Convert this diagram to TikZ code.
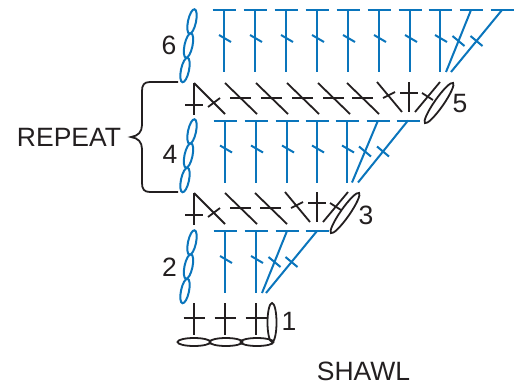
\documentclass[tikz,border=0pt]{standalone}
\usepackage{fontspec}
\setmainfont{Liberation Sans}
\usetikzlibrary{shapes.geometric,calc}
\definecolor{chartblue}{HTML}{0A75BC}
\definecolor{chartblack}{HTML}{231F20}
\tikzset{
  bluest/.style={draw=chartblue,line width=2pt},
  blackst/.style={draw=chartblack,line width=1.8pt},
  chainlink/.style={ellipse,draw=chartblue,line width=2pt,inner sep=0pt,minimum width=25pt,minimum height=8pt,rotate=78},
  flatlink/.style={ellipse,draw=chartblack,line width=1.8pt,inner sep=0pt,minimum width=33pt,minimum height=8pt},
  turnlink/.style={ellipse,draw=chartblack,line width=1.8pt,inner sep=0pt,minimum width=49pt,minimum height=9pt,rotate=55},
  numlabel/.style={font=\fontsize{26.5}{29}\selectfont,text=chartblack,inner sep=0pt}
}
\begin{document}
\begin{tikzpicture}[x=1pt,y=-1pt]
            \useasboundingbox (0,0) rectangle (518,386);

            % straight blue stitches: x, top y
            \foreach \xa/\ya in {224/10,255/10,286/10,317/10,348/10,379/10,410/10,440/10,
                                 225/120.5,256/120.5,287/120.5,317/120.5,347/120.5,
                                 225/231,256/231} {
                \draw[bluest] (\xa-11.5,\ya) -- (\xa+11.5,\ya);
                \draw[bluest] (\xa,\ya) -- (\xa,\ya+62);
                \draw[bluest] (\xa-5,\ya+25) -- (\xa+7,\ya+32);
            }
            % slanted blue stitches: top x, bottom x, top y
            \foreach \xa/\xb/\ya in {471/446/10,502/451/10,
                                     378/352/120.5,408/358/120.5,
                                     287/262/231,317/266/231} {
                \draw[bluest] (\xa-11.5,\ya) -- (\xa+11.5,\ya);
                \draw[bluest] (\xa,\ya) -- (\xb,\ya+62);
                \draw[bluest] ($(\xa,\ya)!0.5!(\xb,\ya+62)+(-6,-5)$) -- ($(\xa,\ya)!0.5!(\xb,\ya+62)+(6,5)$);
            }

            % foundation row
            \foreach \xa in {194,225,256} {
                \draw[blackst] (\xa,303) -- (\xa,335);
                \draw[blackst] (\xa-10.5,318) -- (\xa+10.5,318);
            }
            \node (f1) at (194,342) [flatlink] {};
            \node (f2) at (226,342) [flatlink] {};
            \node (f3) at (257,342) [flatlink] {};
            \node (f4) at (272,322.5) [flatlink,minimum width=39pt,minimum height=9pt,rotate=90] {};

            % black rows: top y 83 and 193
            \foreach \ya in {83,193} {
                \draw[blackst] (194,\ya) -- (194,\ya+32);
                \draw[blackst] (185,\ya+22) -- (203,\ya+22);
                \draw[blackst] (194,\ya) -- (225,\ya+31);
                \draw[blackst] (208,\ya+24) -- (220,\ya+15);
            }
            \foreach \xa/\ya in {225/83,256/83,287/83,318/83,347/83,225/193,255/193} {
                \draw[blackst] (\xa,\ya) -- (\xa+32,\ya+31);
                \draw[blackst] (\xa+5,\ya+15) -- (\xa+26,\ya+15);
            }
            % last three stitches of a black row: x of the plus, top y
            \foreach \xa/\ya in {409/82,317/192} {
                \draw[blackst] (\xa-32,\ya) -- (\xa-7,\ya+30);
                \draw[blackst] (\xa-26,\ya+16) -- (\xa-14,\ya+10);
                \draw[blackst] (\xa,\ya) -- (\xa,\ya+30);
                \draw[blackst] (\xa-9,\ya+11) -- (\xa+9,\ya+11);
                \draw[blackst] (\xa+6,\ya+30) -- (\xa+31,\ya);
                \draw[blackst] (\xa+13,\ya+11) -- (\xa+24,\ya+18);
            }
            \node (t5) at (439,103) [turnlink] {};
            \node (t3) at (345,213) [turnlink] {};

            % turning chains
            \foreach \ya/\nm in {0/s,110/r,221/q} {
                \node (\nm a) at (192,21.5+\ya) [chainlink] {};
                \node (\nm b) at (188.5,45.5+\ya) [chainlink] {};
                \node (\nm c) at (185,70+\ya) [chainlink] {};
            }

            % repeat brace
            \draw[blackst] (178,82) -- (150,82) .. controls (144,82) and (142,85) .. (142,91)
                -- (142,125) .. controls (142,132) and (138,136) .. (131,137)
                .. controls (138,138) and (142,142) .. (142,149)
                -- (142,183) .. controls (142,189) and (144,192) .. (150,192) -- (178,192);

            \node (n6) at (169,45) [numlabel] {6};
            \node (n5) at (460,104) [numlabel] {5};
            \node (n4) at (170,154) [numlabel] {4};
            \node (n3) at (366,215) [numlabel] {3};
            \node (n2) at (169.5,267) [numlabel] {2};
            \node (n1) at (289,321) [numlabel] {1};
            \node (rep) at (69,137.5) [numlabel] {REPEAT};
            \node (shawl) at (363.5,371.5) [numlabel] {SHAWL};

        \end{tikzpicture}
\end{document}
